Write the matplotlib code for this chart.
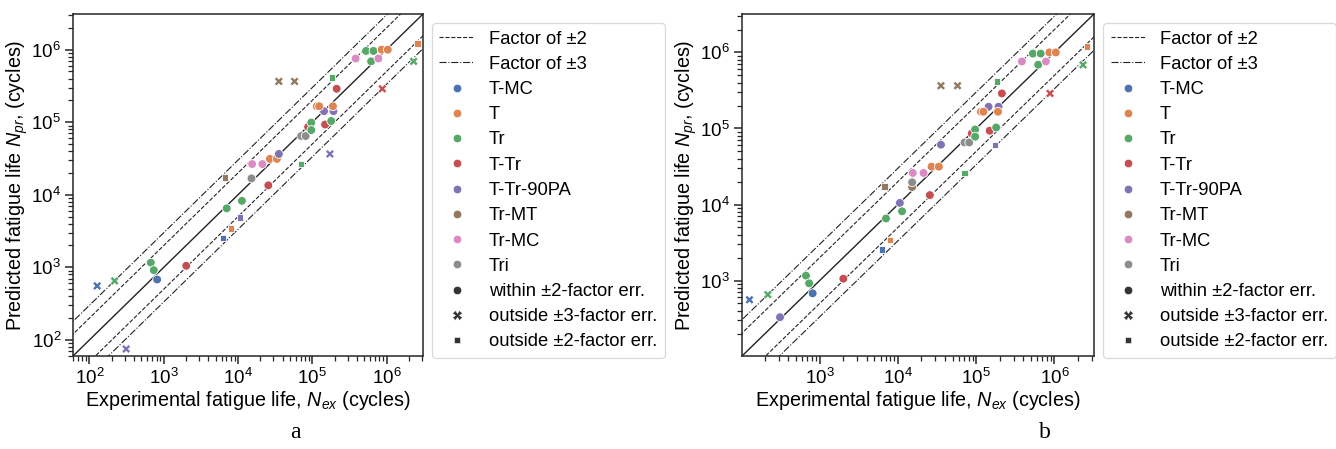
#!/usr/bin/env python3
"""Predicted vs experimental fatigue life, two model variants (a, b)."""

from __future__ import annotations

import matplotlib

matplotlib.use("Agg")
import matplotlib.pyplot as plt
import numpy as np
from matplotlib.lines import Line2D

plt.rcParams["font.family"] = ["Liberation Sans", "DejaVu Sans"]
plt.rcParams["mathtext.fontset"] = "custom"
plt.rcParams["mathtext.rm"] = "Liberation Sans"
plt.rcParams["mathtext.it"] = "Liberation Sans:italic"

CATEGORIES = ["T-MC", "T", "Tr", "T-Tr", "T-Tr-90PA", "Tr-MT", "Tr-MC", "Tri"]
COLORS = ["#4C72B0", "#DD8452", "#55A868", "#C44E52", "#8172B3", "#937860", "#DA8BC3", "#8C8C8C"]

STATUS_KEYS = ["in", "out3", "out2"]
STATUS_LABELS = ["within ±2-factor err.", "outside ±3-factor err.", "outside ±2-factor err."]

# one entry per specimen
POINT_CATEGORY = [
    "T-MC", "Tr", "Tr", "Tr", "T-MC", "T-Tr-90PA", "T-Tr", "T-MC", "T", "T-Tr-90PA",
    "Tr", "Tr", "Tr-MT", "Tr-MT", "Tri", "Tr-MC", "Tr-MC", "T", "T", "T-Tr-90PA",
    "T-Tr", "Tr", "Tri", "Tri", "T-Tr", "Tr", "Tr", "T-Tr", "T-Tr-90PA", "T-Tr-90PA",
    "T-Tr-90PA", "T", "T", "T", "Tr", "T-Tr", "Tr", "Tr-MT", "Tr-MT", "Tr-MC",
    "Tr", "Tr", "Tr", "Tr-MC", "T", "T", "T-Tr", "T", "Tr",
]
N_EX = [
    127, 218, 670, 735, 815, 312, 2010, 6300, 8000, 10600,
    7050, 11300, 6750, 15200, 15200, 15500, 21300, 26900, 33400, 35500,
    25600, 71000, 71000, 81500, 88000, 97000, 97000, 149000, 173000, 144000,
    193000, 115000, 124000, 190000, 180000, 213000, 183000, 35500, 57800, 384000,
    530000, 668000, 620000, 778000, 860000, 1040000, 878000, 2600000, 2320000,
]
N_PR_A = [
    555, 650, 1160, 915, 680, 75, 1050, 2550, 3440, 4860,
    6500, 8250, 17300, 17000, 16800, 26500, 26500, 31200, 31200, 36500,
    13500, 26500, 64500, 64500, 86000, 99000, 78000, 93000, 36500, 142000,
    142000, 166000, 166000, 166000, 104000, 289000, 413000, 365000, 365000, 755000,
    960000, 960000, 690000, 755000, 1000000, 1000000, 289000, 1210000, 690000,
]
N_PR_B = [
    560, 655, 1160, 920, 680, 330, 1060, 2550, 3450, 10500,
    6550, 8150, 17200, 17000, 19600, 26000, 26000, 31500, 31500, 61200,
    13300, 26000, 65500, 65500, 86000, 97000, 78000, 93500, 61200, 193000,
    193000, 166000, 166000, 166000, 103000, 289000, 413000, 365000, 365000, 760000,
    965000, 965000, 690000, 760000, 1000000, 1000000, 289000, 1200000, 685000,
]
STATUS_A = [
    "out3", "out3", "in", "in", "in", "out3", "in", "out2", "out2", "out2",
    "in", "in", "out2", "in", "in", "in", "in", "in", "in", "in",
    "in", "out2", "in", "in", "in", "in", "in", "in", "out3", "in",
    "in", "in", "in", "in", "in", "in", "out2", "out3", "out3", "in",
    "in", "in", "in", "in", "in", "in", "out3", "out2", "out3",
]
STATUS_B = [
    "out3", "out3", "in", "in", "in", "in", "in", "out2", "out2", "in",
    "in", "in", "out2", "in", "in", "in", "in", "in", "in", "in",
    "in", "out2", "in", "in", "in", "in", "in", "in", "out2", "in",
    "in", "in", "in", "in", "in", "in", "out2", "out3", "out3", "in",
    "in", "in", "in", "in", "in", "in", "out3", "out2", "out3",
]

LIMITS_A = (60, 3.1e6)
LIMITS_B = (102, 3.2e6)

MARKERS = {"in": "o", "out3": "X", "out2": (4, 0, 45)}
MARKER_SIZE = {"in": 40, "out3": 44, "out2": 42}
LINE_COLOR = "#222222"
FS_TICK = 13.5
FS_LABEL = 14.2
FS_LEGEND = 13.2


def draw_panel(ax, n_pr, status, limits):
    color_of = dict(zip(CATEGORIES, COLORS))
    x = np.asarray(N_EX, dtype=float)
    y = np.asarray(n_pr, dtype=float)
    st = np.asarray(status)
    cols = np.asarray([color_of[c] for c in POINT_CATEGORY])

    ref = np.array([1.0, 1e8])
    ax.plot(ref, ref, color=LINE_COLOR, lw=1.0, zorder=1)
    for f in (2.0, 0.5):
        ax.plot(ref, ref * f, color=LINE_COLOR, lw=0.8, ls="--", zorder=1)
    for f in (3.0, 1.0 / 3.0):
        ax.plot(ref, ref * f, color=LINE_COLOR, lw=0.8, ls="-.", zorder=1)

    for key in STATUS_KEYS:
        m = st == key
        if not m.any():
            continue
        ax.scatter(x[m], y[m], c=list(cols[m]), marker=MARKERS[key], s=MARKER_SIZE[key],
                   edgecolors="white", linewidths=0.6, zorder=3)

    ax.set_xscale("log")
    ax.set_yscale("log")
    ax.set_xlim(*limits)
    ax.set_ylim(*limits)
    for side in ("top", "right", "left", "bottom"):
        ax.spines[side].set_color("#262626")
        ax.spines[side].set_linewidth(1.1)
    ax.tick_params(which="major", length=6, width=1.1, color="#262626", labelsize=FS_TICK, pad=2.5)
    ax.tick_params(which="minor", length=3.5, width=0.9, color="#262626")
    ax.set_xlabel("Experimental fatigue life, $N_{ex}$ (cycles)", fontsize=FS_LABEL, labelpad=1)
    ax.set_ylabel("Predicted fatigue life $N_{pr}$, (cycles)", fontsize=FS_LABEL, labelpad=1)

    handles = [
        Line2D([], [], color=LINE_COLOR, lw=0.8, ls="--"),
        Line2D([], [], color=LINE_COLOR, lw=0.8, ls="-."),
    ]
    handles += [Line2D([], [], ls="", marker="o", ms=6, color=c, mec="white", mew=0.4) for c in COLORS]
    handles += [
        Line2D([], [], ls="", marker=MARKERS[k], ms=6 if k == "in" else 6.5, color="#333333", mec="white", mew=0.4)
        for k in STATUS_KEYS
    ]
    labels = ["Factor of ±2", "Factor of ±3"] + CATEGORIES + STATUS_LABELS
    leg = ax.legend(handles, labels, loc="upper left", bbox_to_anchor=(1.0, 1.0),
                    fontsize=FS_LEGEND, frameon=True, fancybox=True, labelspacing=0.45,
                    handlelength=1.9)
    leg.get_frame().set_edgecolor("#d0d0d0")
    leg.get_frame().set_linewidth(0.9)


def main() -> None:
    fig = plt.figure(figsize=(13.36, 4.49), dpi=100)
    ax_a = fig.add_axes([73 / 1336, 1 - 356 / 449, 350 / 1336, 342 / 449])
    ax_b = fig.add_axes([742 / 1336, 1 - 356 / 449, 352 / 1336, 342 / 449])
    draw_panel(ax_a, N_PR_A, STATUS_A, LIMITS_A)
    draw_panel(ax_b, N_PR_B, STATUS_B, LIMITS_B)
    fig.text(295 / 1336, 1 - 432 / 449, "a", family="Liberation Serif", fontsize=17, ha="center", va="center")
    fig.text(1045 / 1336, 1 - 432 / 449, "b", family="Liberation Serif", fontsize=17, ha="center", va="center")
    fig.savefig("out.png", dpi=100, facecolor="white")
    plt.close(fig)


if __name__ == "__main__":
    main()
